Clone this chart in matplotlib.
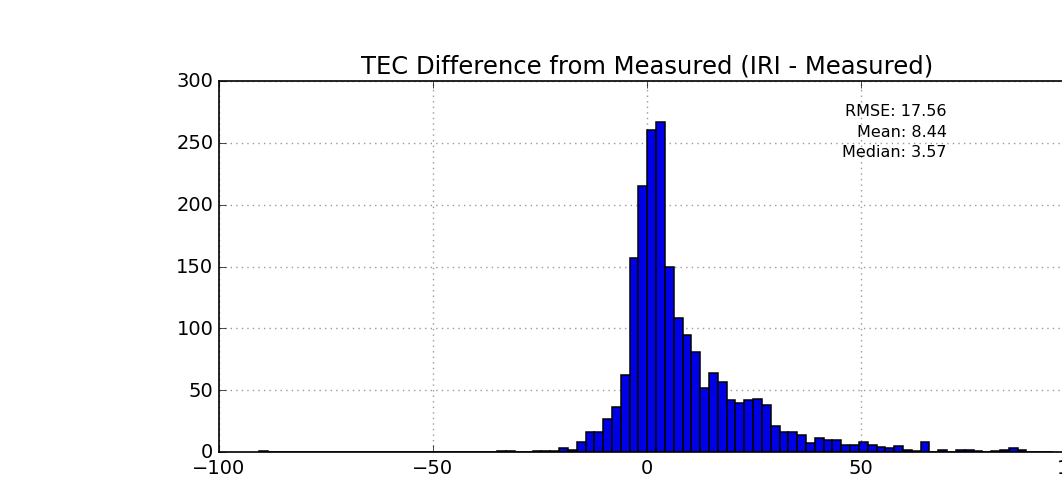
import numpy as np
import matplotlib
matplotlib.use("Agg")
from matplotlib import pyplot as plt

# histogram of IRI - measured TEC
first_edge = -90.57   # left edge of the first bin
bin_width = 2.06
counts = [1] + [0] * 26 + [
    1, 1, 0, 0, 1, 1, 1, 3, 2, 8, 16, 16, 27, 36, 62, 157, 215,   # bins -17 .. -1
    260, 267, 150, 108, 95, 81, 52, 64, 57, 42, 40, 42, 43, 38,    # bins 0 .. 13
    21, 16, 16, 14, 7, 11, 10, 10, 6, 6, 8, 6, 4, 3, 5, 2, 1, 8,   # bins 14 .. 31
    0, 2, 0, 2, 2, 1, 0, 1, 2, 3, 2, 0, 0, 0]                      # bins 32 .. 45

stats_text = "RMSE: 17.56\nMean: 8.44\nMedian: 3.57"
title = "TEC Difference from Measured (IRI - Measured)"

plt.style.use("classic")
fig = plt.figure(figsize=(10.62, 4.85), dpi=100)
fig.patch.set_facecolor("white")
# axes run past the right edge, the original is cropped there
ax = fig.add_axes([219 / 1062, 32 / 485, 856 / 1062, 371 / 485])

lefts = first_edge + bin_width * np.arange(len(counts))
ax.bar(lefts, counts, width=bin_width, align="edge",
       color="#0000e8", edgecolor="black", linewidth=1.1)

ax.set_xlim(-100, 100)
ax.set_ylim(0, 300)
ax.set_xticks(np.arange(-100, 101, 50))
ax.set_yticks(np.arange(0, 301, 50))
ax.grid(True, color="0.6", linestyle=":", linewidth=1.0)
ax.set_axisbelow(True)
for sp in ax.spines.values():
    sp.set_linewidth(1.2)
ax.tick_params(labelsize=14, length=5)
ax.set_title(title, fontsize=17.5, pad=6)
ax.text(0.85, 0.94, stats_text, transform=ax.transAxes, ha="right", va="top",
        fontsize=11.5, linespacing=1.45)

fig.savefig("out.png", dpi=100, facecolor="white")
